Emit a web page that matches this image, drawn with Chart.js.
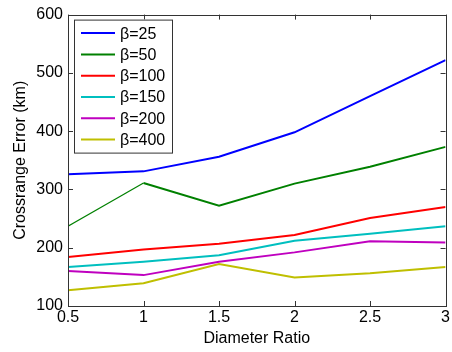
<!DOCTYPE html>
<html>
<head>
<meta charset="utf-8">
<script src="https://cdn.jsdelivr.net/npm/chart.js@4/dist/chart.umd.min.js"></script>
<style>
  html, body { margin: 0; padding: 0; background: #fff; }
  #wrap { width: 452px; height: 352px; }
</style>
</head>
<body>
<div id="wrap"><canvas id="c" width="452" height="352"></canvas></div>
<script>
// Diameter ratio sampled along the x axis
const diameterRatio = [0.5, 1, 1.5, 2, 2.5, 3];

// Crossrange error (km) for each ballistic coefficient
const beta25  = [326, 331, 356, 398, 460, 522];
const beta50  = [237, 311, 272, 310, 339, 373];
const beta100 = [184, 197, 207, 222, 251, 270];
const beta150 = [167, 176, 187, 212, 224, 237];
const beta200 = [160, 153, 176, 192, 211, 209];
const beta400 = [127, 139, 172, 149, 156, 167];

const seriesLabels = ['β=25', 'β=50', 'β=100', 'β=150', 'β=200', 'β=400'];
const seriesValues = [beta25, beta50, beta100, beta150, beta200, beta400];
const seriesColors = ['#0000ff', '#008000', '#ff0000', '#00bfbf', '#bf00bf', '#bfbf00'];

const xTicks = [0.5, 1, 1.5, 2, 2.5, 3];
const yTicks = [100, 200, 300, 400, 500, 600];

const FONT = 'Liberation Sans, Arial, sans-serif';

const datasets = seriesValues.map((vals, i) => ({
  label: seriesLabels[i],
  data: diameterRatio.map((x, j) => ({ x: x, y: vals[j] })),
  borderColor: seriesColors[i],
  backgroundColor: seriesColors[i],
  borderWidth: 2,
  pointRadius: 0,
  tension: 0,
  segment: i === 1 ? { borderWidth: ctx => ctx.p0DataIndex === 0 ? 1.2 : 2 } : undefined
}));

// Box frame with inward tick marks on all four sides
const frameTicks = {
  id: 'frameTicks',
  afterDatasetsDraw(chart) {
    const { ctx, chartArea: a, scales: { x, y } } = chart;
    const len = 5;
    ctx.save();
    ctx.strokeStyle = '#333';
    ctx.lineWidth = 1;
    ctx.beginPath();
    xTicks.forEach(v => {
      const px = Math.round(x.getPixelForValue(v)) + 0.5;
      ctx.moveTo(px, a.bottom); ctx.lineTo(px, a.bottom - len);
      ctx.moveTo(px, a.top); ctx.lineTo(px, a.top + len);
    });
    yTicks.forEach(v => {
      const py = Math.round(y.getPixelForValue(v)) + 0.5;
      ctx.moveTo(a.left, py); ctx.lineTo(a.left + len, py);
      ctx.moveTo(a.right, py); ctx.lineTo(a.right - len, py);
    });
    ctx.stroke();
    ctx.strokeRect(Math.round(a.left) + 0.5, Math.round(a.top) + 0.5,
                   Math.round(a.right - a.left), Math.round(a.bottom - a.top));
    ctx.restore();
  }
};

// Legend box in the upper-left corner of the plot
const boxLegend = {
  id: 'boxLegend',
  afterDraw(chart) {
    const { ctx, chartArea: a } = chart;
    const left = a.left + 6, top = a.top + 5, w = 98, h = 133;
    ctx.save();
    ctx.fillStyle = '#fff';
    ctx.fillRect(left, top, w, h);
    ctx.strokeStyle = '#333';
    ctx.lineWidth = 1;
    ctx.strokeRect(left + 0.5, top + 0.5, w, h);
    ctx.font = '16px ' + FONT;
    ctx.textBaseline = 'middle';
    ctx.textAlign = 'left';
    chart.data.datasets.forEach((ds, i) => {
      const cy = top + 13.5 + i * 21.3;
      ctx.strokeStyle = ds.borderColor;
      ctx.lineWidth = 2;
      ctx.beginPath();
      ctx.moveTo(left + 7, cy);
      ctx.lineTo(left + 41, cy);
      ctx.stroke();
      ctx.fillStyle = '#000';
      ctx.fillText(ds.label, left + 46, cy + 1);
    });
    ctx.restore();
  }
};

new Chart(document.getElementById('c'), {
  type: 'line',
  data: { datasets },
  options: {
    responsive: false,
    animation: false,
    devicePixelRatio: 1,
    layout: { padding: { top: 12, right: 5, left: 0, bottom: 0 } },
    plugins: { legend: { display: false }, tooltip: { enabled: false } },
    scales: {
      x: {
        type: 'linear',
        min: 0.5, max: 3,
        afterBuildTicks: s => { s.ticks = xTicks.map(v => ({ value: v })); },
        afterFit: s => { s.height = 46; },
        grid: { display: false, drawTicks: false },
        border: { display: false },
        ticks: {
          padding: 2,
          color: '#000',
          font: { family: FONT, size: 16 },
          maxRotation: 0,
          callback: v => String(v)
        },
        title: {
          display: true,
          text: 'Diameter Ratio',
          color: '#000',
          font: { family: FONT, size: 16 },
          padding: { top: 0, bottom: 4 }
        }
      },
      y: {
        type: 'linear',
        min: 100, max: 600,
        afterBuildTicks: s => { s.ticks = yTicks.map(v => ({ value: v })); },
        afterFit: s => { s.width = 68; },
        grid: { display: false, drawTicks: false },
        border: { display: false },
        ticks: {
          padding: 5,
          color: '#000',
          font: { family: FONT, size: 16 },
          callback: v => String(v)
        },
        title: {
          display: true,
          text: 'Crossrange Error (km)',
          color: '#000',
          font: { family: FONT, size: 16 },
          padding: { top: 11, bottom: 0 }
        }
      }
    }
  },
  plugins: [frameTicks, boxLegend]
});
</script>
</body>
</html>
